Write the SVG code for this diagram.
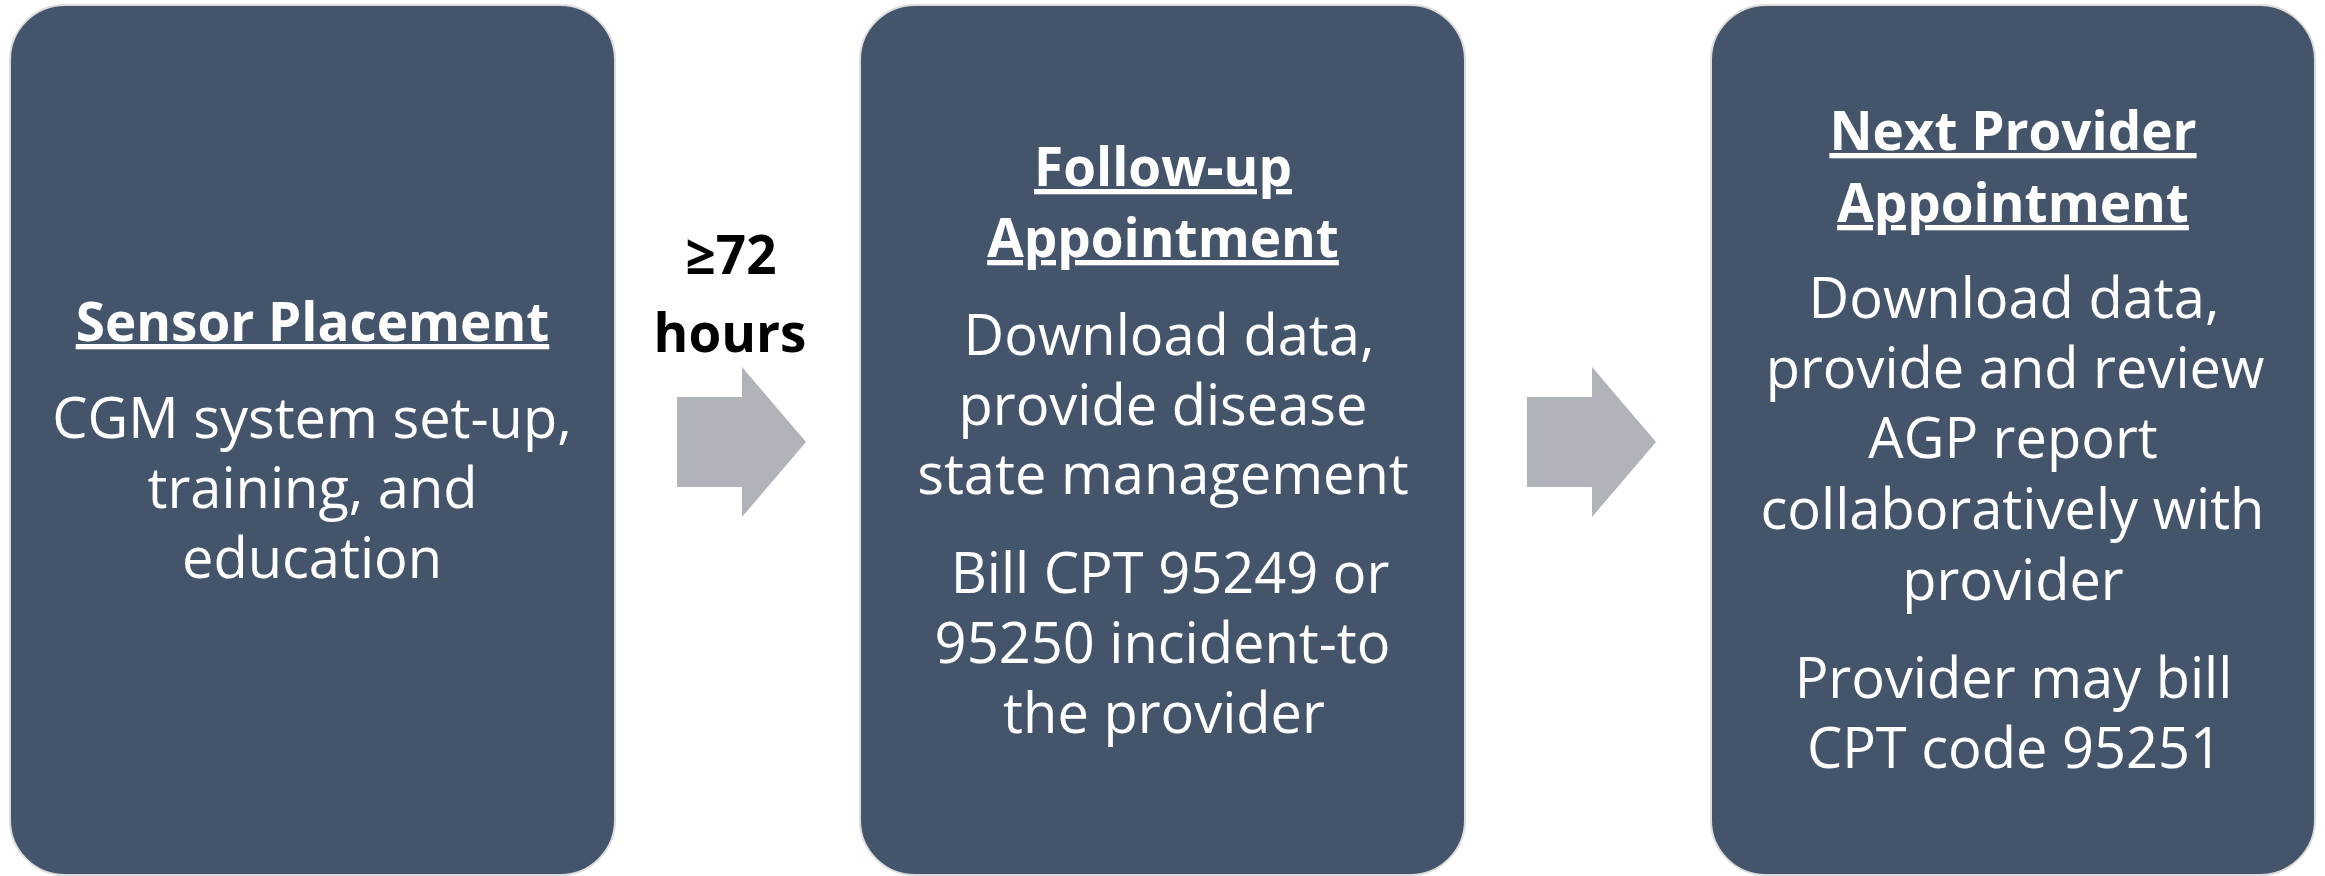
<svg xmlns="http://www.w3.org/2000/svg" width="2325" height="876" viewBox="0 0 2325 876">
  <style>
    .box { fill: #44546a; stroke: #dcdcdc; stroke-width: 2; }
    .hd { font-family: "Open Sans", "Noto Sans", sans-serif; font-weight: 700; font-size: 53px; fill: #ffffff; text-anchor: middle; text-decoration: underline; }
    .bd { font-family: "Open Sans", "Noto Sans", sans-serif; font-weight: 400; font-size: 56px; fill: #ffffff; text-anchor: middle; }
    .lbl { font-family: "Open Sans", "Noto Sans", sans-serif; font-weight: 700; font-size: 53px; fill: #000000; text-anchor: middle; }
    .arrow { fill: #b0b3ba; }
  </style>
  <rect width="2325" height="876" fill="#ffffff"/>

  <g id="connectors">
    <polygon class="arrow" points="677,397 742,397 742,367 806,442 742,517 742,487 677,487"/>
    <polygon class="arrow" points="1527,397 1592,397 1592,367 1656,442 1592,517 1592,487 1527,487"/>
    <text class="lbl" x="731" y="274">≥72</text>
    <text class="lbl" x="730" y="352">hours</text>
  </g>

  <g id="sensor-placement">
    <rect class="box" x="10" y="5" width="605" height="870" rx="55" ry="55"/>
    <text class="hd" x="312.5" y="341">Sensor Placement</text>
    <text class="bd" x="312" y="438">CGM system set-up,</text>
    <text class="bd" x="312.5" y="508">training, and</text>
    <text class="bd" x="312" y="578">education</text>
  </g>

  <g id="follow-up-appointment">
    <rect class="box" x="860" y="5" width="605" height="870" rx="55" ry="55"/>
    <text class="hd" x="1163" y="186">Follow-up</text>
    <text class="hd" x="1163" y="257">Appointment</text>
    <text class="bd" x="1169" y="355">Download data,</text>
    <text class="bd" x="1163" y="425">provide disease</text>
    <text class="bd" x="1163" y="494">state management</text>
    <text class="bd" x="1170" y="593">Bill CPT 95249 or</text>
    <text class="bd" x="1162.5" y="663">95250 incident-to</text>
    <text class="bd" x="1164" y="733">the provider</text>
  </g>

  <g id="next-provider-appointment">
    <rect class="box" x="1711" y="5" width="604" height="870" rx="55" ry="55"/>
    <text class="hd" x="2013" y="150">Next Provider</text>
    <text class="hd" x="2013" y="222">Appointment</text>
    <text class="bd" x="2014" y="318">Download data,</text>
    <text class="bd" x="2015" y="388">provide and review</text>
    <text class="bd" x="2013" y="458">AGP report</text>
    <text class="bd" x="2012.5" y="529">collaboratively with</text>
    <text class="bd" x="2013" y="600">provider</text>
    <text class="bd" x="2013.5" y="698">Provider may bill</text>
    <text class="bd" x="2014.5" y="768">CPT code 95251</text>
  </g>
</svg>
